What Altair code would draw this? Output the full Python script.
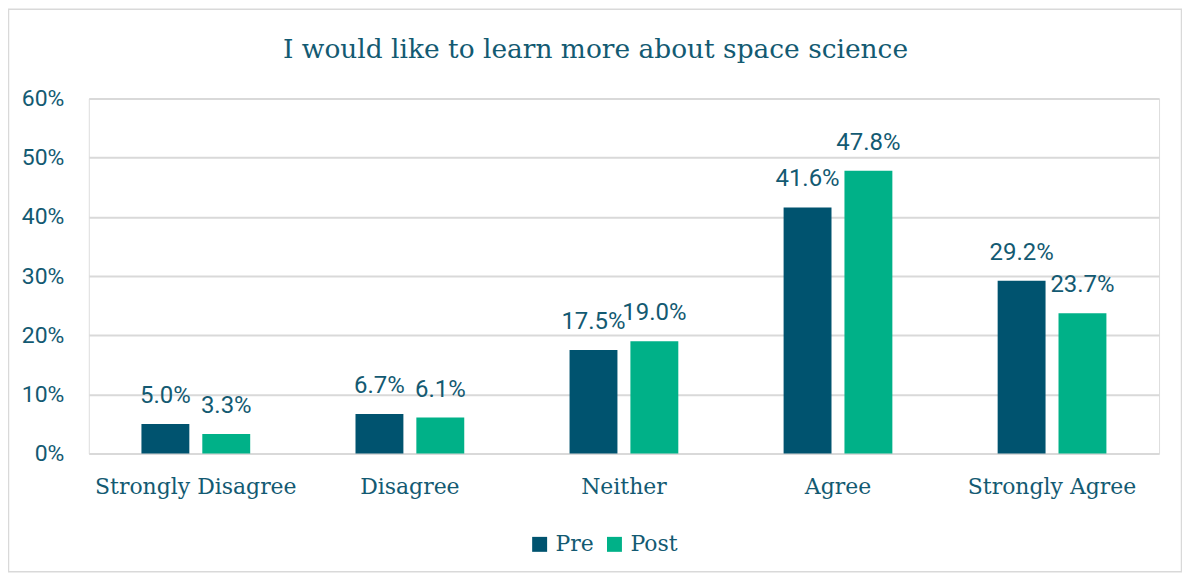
import altair as alt
import pandas as pd

categories = ["Strongly Disagree", "Disagree", "Neither", "Agree", "Strongly Agree"]
series = ["Pre", "Post"]
pre_values = [0.050, 0.067, 0.175, 0.416, 0.292]
post_values = [0.033, 0.061, 0.190, 0.478, 0.237]
title_text = "I would like to learn more about space science"

rows = []
for c, v in zip(categories, pre_values):
    rows.append({"category": c, "series": "Pre", "value": v})
for c, v in zip(categories, post_values):
    rows.append({"category": c, "series": "Post", "value": v})
df = pd.DataFrame(rows)

TEXT = "#135A72"
PRE = "#00536F"
POST = "#00B188"
GRID = "#D9D9D9"
SERIF = "DejaVu Serif"
SANS = "Roboto"

W, H = 1073, 356

x = alt.X("category:N", sort=categories, title=None,
          scale=alt.Scale(paddingInner=0, paddingOuter=0),
          axis=alt.Axis(labelAngle=0, labelFont=SERIF, labelFontSize=22,
                        labelColor=TEXT, ticks=False, domain=False, labelLimit=0,
                        labelPadding=23, grid=False))
xo = alt.XOffset("series:N", sort=series,
                 scale=alt.Scale(paddingInner=0.213, paddingOuter=0.865))
y = alt.Y("value:Q", title=None,
          scale=alt.Scale(domain=[0, 0.6]),
          axis=alt.Axis(format=".0%", values=[0, 0.1, 0.2, 0.3, 0.4, 0.5, 0.6],
                        labelFont=SANS, labelFontSize=23, labelColor=TEXT,
                        ticks=False, domain=False, labelPadding=25,
                        gridColor=GRID, gridWidth=2))
color = alt.Color("series:N", sort=series,
                  scale=alt.Scale(domain=series, range=[PRE, POST]),
                  legend=alt.Legend(title=None, orient="none", direction="horizontal",
                                    legendX=441, legendY=436,
                                    symbolType="square", symbolSize=225,
                                    symbolStrokeWidth=0,
                                    labelFont=SERIF, labelFontSize=22,
                                    labelColor=TEXT, columnPadding=9,
                                    labelOffset=5))

border = alt.Chart(pd.DataFrame({"a": [0]})).mark_rect(
    fill="transparent", stroke=GRID, strokeWidth=1.5
).encode(x=alt.value(-80.5), x2=alt.value(1095.5),
         y=alt.value(-89.5), y2=alt.value(474.5))

title = alt.Chart(pd.DataFrame({"t": [title_text]})).mark_text(
    font=SERIF, fontSize=26.5, color=TEXT, align="center", baseline="alphabetic"
).encode(x=alt.value(508), y=alt.value(-41), text="t:N")

bars = alt.Chart(df).mark_bar().encode(x=x, xOffset=xo, y=y, color=color)

labels = alt.Chart(df).mark_text(
    baseline="bottom", dy=-16, font=SANS, fontSize=24, color=TEXT
).encode(x=x, xOffset=xo, y=y, text=alt.Text("value:Q", format=".1%"))

chart = alt.layer(border, title, bars, labels).properties(
    width=W, height=H,
    autosize=alt.AutoSizeParams(type="none"),
    padding={"left": 81, "top": 90, "right": 23, "bottom": 119},
).configure_view(stroke=None).configure(background="white")

chart.save("out.html", embed_options={"renderer": "svg", "actions": False})
